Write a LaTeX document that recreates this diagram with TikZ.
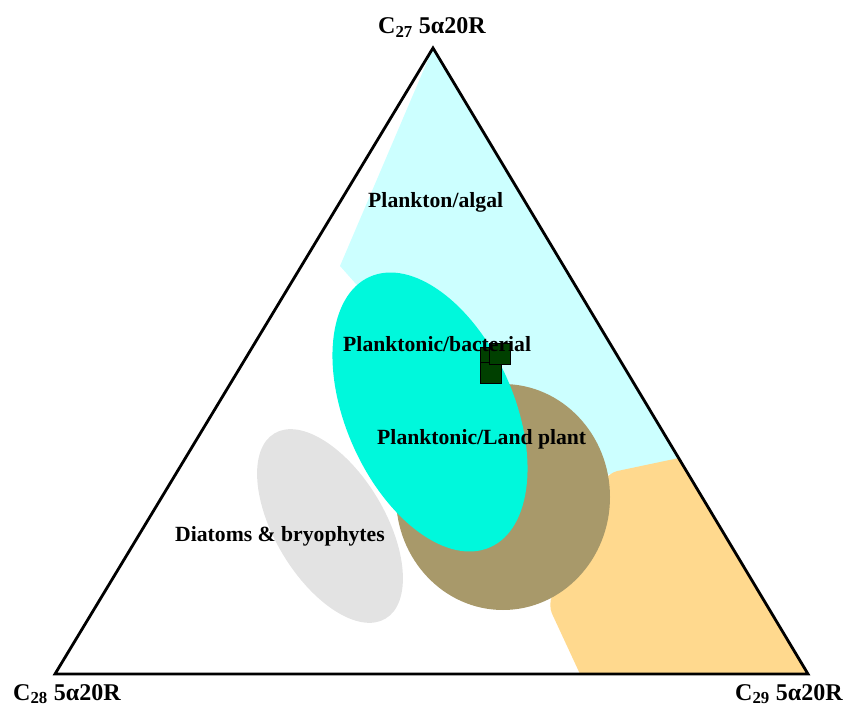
\documentclass[tikz,border=0pt]{standalone}
\usepackage{fontspec}
\setmainfont{Liberation Serif}
\usepackage{xcolor}
\usepackage{tikz}

\definecolor{algalfill}{HTML}{CCFFFF}
\definecolor{bactfill}{HTML}{00F8DC}
\definecolor{landfill}{HTML}{A8996A}
\definecolor{terrfill}{HTML}{FFD98E}
\definecolor{diatfill}{HTML}{E3E3E3}
\definecolor{samplefill}{HTML}{004000}

\begin{document}
\begin{tikzpicture}[
  x=0.3mm, y=-0.3mm,
  region/.style={font=\fontsize{18.5}{20}\selectfont\bfseries, inner sep=0pt, anchor=base west},
  corner/.style={font=\fontsize{20.5}{22}\selectfont\bfseries, inner sep=0pt},
  sample/.style={draw=black, line width=0.5pt, fill=samplefill, minimum size=6.3mm, inner sep=0pt},
  frame/.style={line width=2.4pt, line join=miter}
]
  \useasboundingbox (0,0) rectangle (844,709);
  \coordinate (c27) at (433,48);
  \coordinate (c28) at (55,674);
  \coordinate (c29) at (808,674);

  % source fields
  \fill[algalfill] (c27) -- (340,266) -- (356,284) -- (430,330) -- (520,420) -- (600,476) -- (680,461) -- cycle;
  \fill[terrfill] (744,674) -- (580,674) [rounded corners=8pt] -- (548,605) -- (608,473) [sharp corners] -- (679,458) -- (c29) -- cycle;
  \fill[landfill] (503,497) ellipse [x radius=32.1mm, y radius=33.9mm];
  \fill[bactfill] (430,412) ellipse [x radius=44.4mm, y radius=25.2mm, rotate=-66];
  \fill[diatfill] (330,526) ellipse [x radius=32.4mm, y radius=16.5mm, rotate=-59];

  \node[sample] (sa) at (490.5,358) {};
  \node[sample] (sb) at (490.5,373) {};
  \node[sample] (sc) at (499.5,353.5) {};

  \node[region] (algal) at (368,208) {Plankton/algal};
  \node[region] (bact) at (343,352) {Planktonic/bacterial};
  \node[region] (land) at (377,445) {Planktonic/Land plant};
  \node[region] (diat) at (175,542) {Diatoms \& bryophytes};

  \draw[frame] (c27) -- (c28) -- (c29) -- cycle;

  \node[corner, anchor=base] (top) at (432,34) {C\textsubscript{27} 5α20R};
  \node[corner, anchor=base west] (left) at (13,700) {C\textsubscript{28} 5α20R};
  \node[corner, anchor=base west] (right) at (735,700) {C\textsubscript{29} 5α20R};
\end{tikzpicture}
\end{document}
